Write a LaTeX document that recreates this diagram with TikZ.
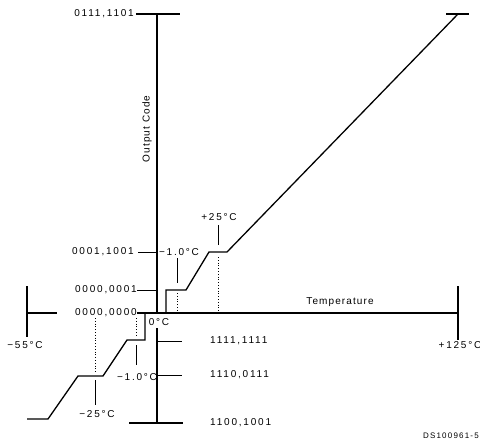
\documentclass[tikz,border=0pt]{standalone}
\usepackage{fontspec}
\setmainfont{Liberation Sans}
\newfontfamily\codefam[LetterSpace=18]{Liberation Sans}
\newfontfamily\axisfam[LetterSpace=11]{Liberation Sans}
\newfontfamily\tagfam[LetterSpace=15]{Liberation Sans}

\begin{document}
\begin{tikzpicture}[
  x=1pt, y=-1pt,
  heavy/.style={line width=1.7pt},
  axisline/.style={line width=1.2pt},
  stair/.style={line width=1.3pt, line join=miter},
  thin/.style={line width=0.6pt},
  guide/.style={line width=0.8pt, dotted},
  codelabel/.style={font=\codefam\fontsize{10}{11}\selectfont, inner sep=0pt},
  templabel/.style={font=\codefam\fontsize{10}{11}\selectfont, inner sep=0pt},
  axislabel/.style={font=\axisfam\fontsize{10}{11}\selectfont, inner sep=0pt}
]
  \useasboundingbox (0,0) rectangle (480,444);

  % Axes
  \draw[axisline] (157,14) -- (157,313);
  \draw[axisline] (157,328) -- (157,423);
  \draw[axisline] (136,14) -- (180,14);
  \draw[heavy] (129,423) -- (183,423);
  \draw[heavy] (137,313) -- (458,313);
  \draw[heavy] (27,313) -- (57,313);
  \draw[axisline] (27,286) -- (27,337);
  \draw[axisline] (458,286) -- (458,340);
  \draw[axisline] (446,14) -- (469,14);

  % Code ticks
  \draw[thin] (138,252) -- (157,252);
  \draw[thin] (137,290) -- (157,290);
  \draw[thin] (157,341) -- (182,341);
  \draw[thin] (157,375) -- (182,375);

  % Transfer curve
  \draw[stair] (166,313) -- (166,290) -- (186,290) -- (209,252)
    -- (227,252) -- (458,14);
  \draw[stair] (145,313) -- (145,340) -- (127,340) -- (103,376)
    -- (78,376) -- (48,419) -- (27,419);

  % Temperature markers
  \draw[thin] (177,258) -- (177,283);
  \draw[guide] (177,293) -- (177,311);
  \draw[thin] (218,225) -- (218,245);
  \draw[guide] (218,257) -- (218,311);
  \draw[guide] (136,318) -- (136,335);
  \draw[thin] (136,345) -- (136,365);
  \draw[guide] (95,318) -- (95,372);
  \draw[thin] (95,380) -- (95,405);

  % Output codes
  \node[codelabel, anchor=east] (c7d) at (134,14) {0111,1101};
  \node[codelabel, anchor=east] (c19) at (134,252) {0001,1001};
  \node[codelabel, anchor=east] (c01) at (137,290) {0000,0001};
  \node[codelabel, anchor=east] (c00) at (137,313) {0000,0000};
  \node[codelabel, anchor=west] (cff) at (210,341) {1111,1111};
  \node[codelabel, anchor=west] (ce7) at (210,375) {1110,0111};
  \node[codelabel, anchor=west] (cc9) at (210,423) {1100,1001};

  % Temperatures
  \node[templabel] (tm55) at (25,345) {−55°C};
  \node[templabel] (tp125) at (460,345) {+125°C};
  \node[templabel] (tm1a) at (179,252) {−1.0°C};
  \node[templabel] (tp25) at (219,217) {+25°C};
  \node[templabel] (t0) at (159,322) {0°C};
  \node[templabel] (tm1b) at (137,377) {−1.0°C};
  \node[templabel] (tm25) at (97,414) {−25°C};

  % Axis names
  \node[axislabel, rotate=90] (ylab) at (147,129) {Output Code};
  \node[axislabel] (xlab) at (340,302) {Temperature};
  \node[font=\tagfam\fontsize{8}{9}\selectfont, inner sep=0pt, anchor=east]
    (tag) at (479,436) {DS100961-5};
\end{tikzpicture}
\end{document}
